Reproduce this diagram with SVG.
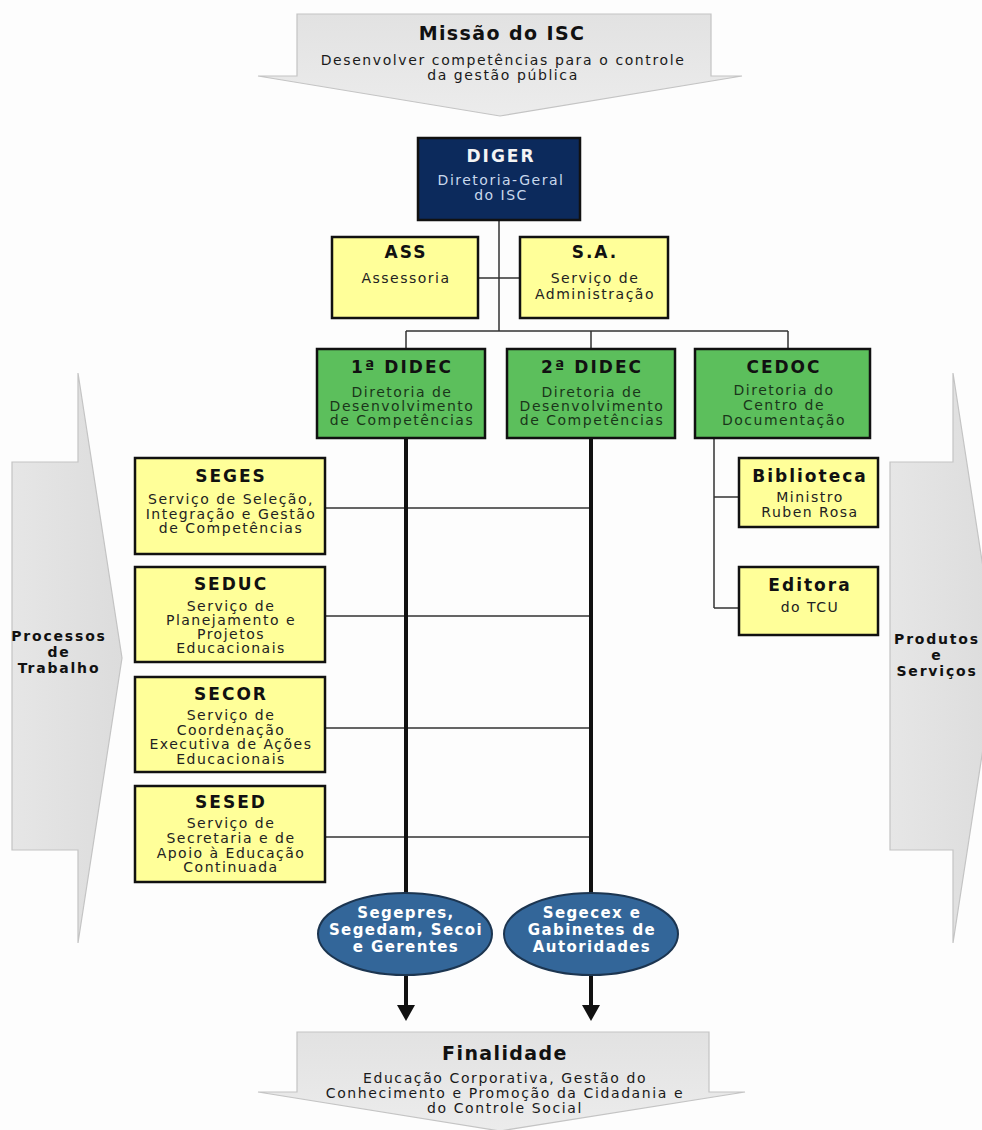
<svg xmlns="http://www.w3.org/2000/svg" width="982" height="1130" viewBox="0 0 982 1130">
<defs>
<linearGradient id="gv" x1="0" y1="0" x2="0" y2="1"><stop offset="0" stop-color="#e2e2e2"/><stop offset="1" stop-color="#ececec"/></linearGradient>
<linearGradient id="gh" x1="0" y1="0" x2="1" y2="0"><stop offset="0" stop-color="#e6e6e6"/><stop offset="1" stop-color="#dcdcdc"/></linearGradient>
<marker id="ah" viewBox="0 0 16 18" refX="0" refY="9" markerWidth="16" markerHeight="18" markerUnits="userSpaceOnUse" orient="auto"><path d="M0,0 L16,9 L0,18 z" fill="#111"/></marker>
</defs>
<style>
text{font-family:"DejaVu Sans",Verdana,sans-serif;text-anchor:middle}
.big{font-size:19px;font-weight:bold;fill:#111;letter-spacing:1.4px}
.sub{font-size:14px;fill:#1a1a1a;letter-spacing:1.6px}
.t{font-size:17px;font-weight:bold;fill:#111;letter-spacing:2px}
.b{font-size:14px;fill:#222;letter-spacing:1.5px}
.bg{font-size:14px;fill:#1a361a;letter-spacing:1.5px}
.side{font-size:14px;font-weight:bold;fill:#111;letter-spacing:1.8px}
.ell{font-size:15px;font-weight:bold;fill:#fff;letter-spacing:1.4px}
.yel{fill:#ffff99;stroke:#111;stroke-width:2.5}
.grn{fill:#5cbf5c;stroke:#111;stroke-width:2.5}
.arr{stroke:#c4c4c4;stroke-width:1.2}
.thin{stroke:#333;stroke-width:1.5;fill:none}
.thick{stroke:#111;stroke-width:4;fill:none}
</style>
<rect width="982" height="1130" fill="#fdfdfd"/>
<g id="missao">
<path class="arr" fill="url(#gv)" d="M297,14 L711,14 L711,76 L742,76 L500,116 L258,76 L297,76 Z"/>
<text class="big" x="502" y="40">Missão do ISC</text>
<text class="sub" x="503" y="65">Desenvolver competências para o controle</text>
<text class="sub" x="503" y="80">da gestão pública</text>
</g>
<g id="processos">
<path class="arr" fill="url(#gh)" d="M12,462 L78,462 L78,373 L122,658 L78,943 L78,850 L12,850 Z"/>
<text class="side" x="59" y="641">Processos</text>
<text class="side" x="59" y="657">de</text>
<text class="side" x="59" y="673">Trabalho</text>
</g>
<g id="produtos">
<path class="arr" fill="url(#gh)" d="M890,462 L953,462 L953,373 L997,658 L953,943 L953,850 L890,850 Z"/>
<text class="side" x="937" y="644">Produtos</text>
<text class="side" x="937" y="660">e</text>
<text class="side" x="937" y="676">Serviços</text>
</g>
<g id="finalidade">
<path class="arr" fill="url(#gv)" d="M297,1032 L709,1032 L709,1092 L745,1092 L500,1131 L258,1092 L297,1092 Z"/>
<text class="big" x="505" y="1060">Finalidade</text>
<text class="sub" x="505" y="1083">Educação Corporativa, Gestão do</text>
<text class="sub" x="505" y="1098">Conhecimento e Promoção da Cidadania e</text>
<text class="sub" x="505" y="1113">do Controle Social</text>
</g>
<g id="connectors">
<path class="thin" d="M499,220 V331 M478,278 H520 M406,331 H788 M406,331 V349 M591,331 V349 M788,331 V349"/>
<path class="thin" d="M325,508 H591 M325,616 H591 M325,728 H591 M325,837 H591"/>
<path class="thin" d="M714,438 V608 M714,497 H739 M714,608 H739"/>
<path class="thick" d="M406,438 V1005" marker-end="url(#ah)"/>
<path class="thick" d="M591,438 V1005" marker-end="url(#ah)"/>
</g>
<g id="diger">
<rect x="418" y="138" width="162" height="82" fill="#0c2a5c" stroke="#111" stroke-width="2.5"/>
<text class="t" x="501" y="162" style="fill:#f4f4f4">DIGER</text>
<text class="b" x="501" y="185" style="fill:#c8d8ec">Diretoria-Geral</text>
<text class="b" x="501" y="200" style="fill:#c8d8ec">do ISC</text>
</g>
<g id="ass">
<rect class="yel" x="332" y="237" width="146" height="81"/>
<text class="t" x="406" y="258">ASS</text>
<text class="b" x="406" y="283">Assessoria</text>
</g>
<g id="sa">
<rect class="yel" x="520" y="237" width="148" height="81"/>
<text class="t" x="595" y="258">S.A.</text>
<text class="b" x="595" y="283">Serviço de</text>
<text class="b" x="595" y="299">Administração</text>
</g>
<g id="didec1">
<rect class="grn" x="317" y="349" width="168" height="89"/>
<text class="t" x="402" y="373">1ª DIDEC</text>
<text class="bg" x="402" y="397">Diretoria de</text>
<text class="bg" x="402" y="411">Desenvolvimento</text>
<text class="bg" x="402" y="425">de Competências</text>
</g>
<g id="didec2">
<rect class="grn" x="507" y="349" width="168" height="89"/>
<text class="t" x="592" y="373">2ª DIDEC</text>
<text class="bg" x="592" y="397">Diretoria de</text>
<text class="bg" x="592" y="411">Desenvolvimento</text>
<text class="bg" x="592" y="425">de Competências</text>
</g>
<g id="cedoc">
<rect class="grn" x="695" y="349" width="175" height="89"/>
<text class="t" x="784" y="373">CEDOC</text>
<text class="bg" x="784" y="395">Diretoria do</text>
<text class="bg" x="784" y="410">Centro de</text>
<text class="bg" x="784" y="425">Documentação</text>
</g>
<g id="biblioteca">
<rect class="yel" x="739" y="458" width="139" height="69"/>
<text class="t" x="810" y="482">Biblioteca</text>
<text class="b" x="810" y="502">Ministro</text>
<text class="b" x="810" y="517">Ruben Rosa</text>
</g>
<g id="editora">
<rect class="yel" x="739" y="567" width="139" height="68"/>
<text class="t" x="810" y="591">Editora</text>
<text class="b" x="810" y="612">do TCU</text>
</g>
<g id="seges">
<rect class="yel" x="135" y="458" width="190" height="96"/>
<text class="t" x="231" y="482">SEGES</text>
<text class="b" x="231" y="504">Serviço de Seleção,</text>
<text class="b" x="231" y="519">Integração e Gestão</text>
<text class="b" x="231" y="533">de Competências</text>
</g>
<g id="seduc">
<rect class="yel" x="135" y="567" width="190" height="95"/>
<text class="t" x="231" y="590">SEDUC</text>
<text class="b" x="231" y="611">Serviço de</text>
<text class="b" x="231" y="625">Planejamento e</text>
<text class="b" x="231" y="639">Projetos</text>
<text class="b" x="231" y="653">Educacionais</text>
</g>
<g id="secor">
<rect class="yel" x="135" y="677" width="190" height="95"/>
<text class="t" x="231" y="700">SECOR</text>
<text class="b" x="231" y="720">Serviço de</text>
<text class="b" x="231" y="735">Coordenação</text>
<text class="b" x="231" y="749">Executiva de Ações</text>
<text class="b" x="231" y="764">Educacionais</text>
</g>
<g id="sesed">
<rect class="yel" x="135" y="786" width="190" height="96"/>
<text class="t" x="231" y="808">SESED</text>
<text class="b" x="231" y="828">Serviço de</text>
<text class="b" x="231" y="843">Secretaria e de</text>
<text class="b" x="231" y="858">Apoio à Educação</text>
<text class="b" x="231" y="872">Continuada</text>
</g>
<g id="segepres">
<ellipse cx="405" cy="934" rx="87" ry="41" fill="#336699" stroke="#1c3550" stroke-width="2"/>
<text class="ell" x="406" y="918">Segepres,</text>
<text class="ell" x="406" y="935">Segedam, Secoi</text>
<text class="ell" x="406" y="952">e Gerentes</text>
</g>
<g id="segecex">
<ellipse cx="591" cy="934" rx="87" ry="41" fill="#336699" stroke="#1c3550" stroke-width="2"/>
<text class="ell" x="592" y="918">Segecex e</text>
<text class="ell" x="592" y="935">Gabinetes de</text>
<text class="ell" x="592" y="952">Autoridades</text>
</g>
</svg>
